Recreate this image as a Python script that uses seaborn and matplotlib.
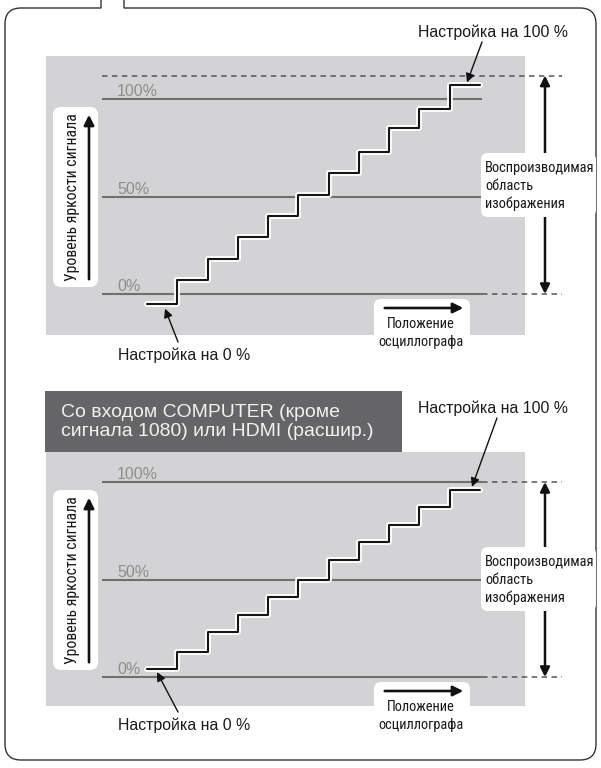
import numpy as np
import pandas as pd
import matplotlib
matplotlib.use("Agg")
import matplotlib.pyplot as plt
import matplotlib.patheffects as pe
import matplotlib.transforms as mtransforms
from matplotlib.patches import FancyBboxPatch, FancyArrowPatch, PathPatch
from matplotlib.path import Path
import seaborn as sns

# ---- data ----
step_pos = list(range(12))                      # step edges (11 steps)
levels_top = [-5, 7, 18, 29, 40, 51, 62, 73, 85, 95, 107]
levels_bottom = [4, 13, 23, 32, 41, 50, 60, 69, 78, 87, 96]
ref_levels = [0, 50, 100]
ref_labels = ["0%", "50%", "100%"]
area_top = [0, 112]          # reproducible picture area, top panel
area_bottom = [0, 100]       # reproducible picture area, bottom panel

header_text = "Со входом COMPUTER (кроме\nсигнала 1080) или HDMI (расшир.)"
note_100 = "Настройка на 100 %"
note_0 = "Настройка на 0 %"
ylabel = "Уровень яркости сигнала"
xlabel = "Положение\nосциллографа"
area_label = "Воспроизводимая\nобласть\nизображения"

sns.set_theme(style="white")
plt.rcParams["font.family"] = ["Liberation Sans", "DejaVu Sans"]
NARROW = ["Roboto Condensed", "Liberation Sans", "DejaVu Sans"]

W, H = 601, 768
fig = plt.figure(figsize=(W / 100, H / 100), dpi=100)
fig.patch.set_facecolor("white")
# pixel coords measured from the top-left corner
T = mtransforms.Affine2D().scale(1 / W, -1 / H).translate(0, 1) + fig.transFigure
renderer = fig.canvas.get_renderer()


def fit(text, target_px, family=None, base=10.0):
    # font size that gives the longest line the width seen in the reference
    line = max(text.split("\n"), key=len)
    t = fig.text(0, 0, line, fontsize=base, family=family or plt.rcParams["font.family"])
    w = t.get_window_extent(renderer).width
    t.remove()
    return base * target_px / w


fs_note = fit(note_0, 132)
fs_pct = fit("100%", 41)
fs_area = fit(area_label, 111, NARROW)
fs_x = fit(xlabel, 86, NARROW)
fs_y = fit(ylabel, 167, NARROW)
fs_head = fit(header_text, 313)

GRAY = "#d3d3d5"
LINE = "#6f6f6f"
INK = "#1a1a1a"
X0, DX = 147, 30.27          # first step edge (px), px per step


def box(x0, y0, x1, y1, color, r=7, z=2):
    p = FancyBboxPatch((x0, y0), x1 - x0, y1 - y0,
                       boxstyle=f"round,pad=0,rounding_size={r}" if r else "square,pad=0",
                       transform=T, facecolor=color, edgecolor="none", zorder=z)
    fig.add_artist(p)


def draw_panel(levels, area, gtop, gbot, zero, hundred, area_mid,
               n100_xy, n0_xy, n100_tip, n0_tip):
    scale = (zero - hundred) / 100.0
    ax = fig.add_axes([46 / W, 1 - gbot / H, 479 / W, (gbot - gtop) / H])
    ax.set_xlim((46 - X0) / DX, (525 - X0) / DX)
    ax.set_ylim((zero - gbot) / scale, (zero - gtop) / scale)
    ax.set_axis_off()
    ax.add_patch(plt.Rectangle((0, 0), 1, 1, transform=ax.transAxes, color=GRAY, zorder=0))

    x_l, x_r, x_d = (102 - X0) / DX, (482 - X0) / DX, (562 - X0) / DX
    for lv, lab in zip(ref_levels, ref_labels):
        ax.hlines(lv, x_l, x_r, color=LINE, lw=1.5, zorder=2)
        ax.text((117 - X0) / DX, lv + 1.4, lab, color="#8d8d8d", fontsize=fs_pct,
                va="baseline", ha="left", zorder=3)
    for lv in area:
        start = x_r if lv in ref_levels else x_l
        ax.plot([start, x_d], [lv, lv], color="#555555", lw=1.1, ls=(0, (3.6, 2.9)),
                clip_on=False, zorder=2)

    df = pd.DataFrame({"pos": step_pos, "level": levels + [levels[-1]]})
    sns.lineplot(data=df, x="pos", y="level", drawstyle="steps-post", color="#151515",
                 lw=1.5, estimator=None, ax=ax, zorder=5,
                 path_effects=[pe.Stroke(linewidth=4.2, foreground="white"), pe.Normal()])

    x_arr = (545 - X0) / DX
    ax.annotate("", xy=(x_arr, area[1]), xytext=(x_arr, area[0]),
                arrowprops=dict(arrowstyle="<|-|>", color="#111", lw=1.8,
                                mutation_scale=14, shrinkA=0, shrinkB=0),
                annotation_clip=False)

    # note arrows
    ax.annotate("", xy=n100_tip(levels), xytext=(n100_xy[0], H - n100_xy[1] - 10),
                textcoords="figure pixels",
                arrowprops=dict(arrowstyle="-|>", color="#111", lw=1.0,
                                mutation_scale=13, shrinkA=0, shrinkB=0),
                annotation_clip=False)
    ax.annotate("", xy=n0_tip(levels), xytext=(n0_xy[0] - 6, H - n0_xy[1] + 13),
                textcoords="figure pixels",
                arrowprops=dict(arrowstyle="-|>", color="#111", lw=1.0,
                                mutation_scale=13, shrinkA=0, shrinkB=0),
                annotation_clip=False)
    fig.text(493, n100_xy[1], note_100, transform=T, ha="center", va="center",
             fontsize=fs_note, color=INK)
    fig.text(184, n0_xy[1], note_0, transform=T, ha="center", va="center",
             fontsize=fs_note, color=INK)

    # picture-area label
    box(481, area_mid - 32, 596, area_mid + 32, "white", r=7, z=3)
    fig.text(485, area_mid + 1, area_label, transform=T, ha="left", va="center",
             fontsize=fs_area, family=NARROW, linespacing=1.3, color=INK, zorder=4)

    # y label box
    box(53, zero - 187, 98, zero - 7, "white", r=8, z=3)
    fig.text(73, zero - 97, ylabel, transform=T, rotation=90, ha="center", va="center",
             fontsize=fs_y, family=NARROW, color=INK, zorder=4)
    fig.add_artist(FancyArrowPatch((89, zero - 12), (89, zero - 182), transform=T,
                                   arrowstyle="-|>", mutation_scale=15, lw=1.9,
                                   color="#111", zorder=4))

    # x label box
    box(374, zero + 5, 470, zero + 52, "white", r=7, z=3)
    fig.add_artist(FancyArrowPatch((382, zero + 14), (466, zero + 14), transform=T,
                                   arrowstyle="-|>", mutation_scale=15, lw=1.9,
                                   color="#111", zorder=4))
    fig.text(421, zero + 39, xlabel, transform=T, ha="center", va="center",
             fontsize=fs_x, family=NARROW, linespacing=1.3, color=INK, zorder=4)
    return ax


draw_panel(levels_top, area_top, 56, 335, 294, 99, 185,
           n100_xy=(482, 32), n0_xy=(184, 355),
           n100_tip=lambda lv: ((467 - X0) / DX, lv[-1] + 1.5),
           n0_tip=lambda lv: ((165 - X0) / DX, lv[0] - 2.5))
draw_panel(levels_bottom, area_bottom, 452, 706, 677, 482, 579,
           n100_xy=(497, 408), n0_xy=(184, 725),
           n100_tip=lambda lv: ((472 - X0) / DX, lv[-1] + 1.5),
           n0_tip=lambda lv: ((157 - X0) / DX, lv[0] - 1.5))

# header of the second panel
box(45, 391, 402, 452, "#656567", r=0, z=2)
fig.text(61, 422, header_text, transform=T, ha="left", va="center", fontsize=fs_head,
         color="#f2f2f2", linespacing=1.1, zorder=3)

# outer frame with the notch at the top
r = 16
verts = [(101, 0), (101, 8), (5 + r, 8), (5, 8), (5, 8 + r), (5, 760 - r), (5, 760),
         (5 + r, 760), (596 - r, 760), (596, 760), (596, 760 - r), (596, 8 + r),
         (596, 8), (596 - r, 8), (124, 8), (124, 0)]
codes = [Path.MOVETO, Path.LINETO, Path.LINETO, Path.CURVE3, Path.CURVE3, Path.LINETO,
         Path.CURVE3, Path.CURVE3, Path.LINETO, Path.CURVE3, Path.CURVE3, Path.LINETO,
         Path.CURVE3, Path.CURVE3, Path.LINETO, Path.LINETO]
fig.add_artist(PathPatch(Path(verts, codes), transform=T, facecolor="none",
                         edgecolor="#333333", lw=1.0, zorder=1))

fig.savefig("out.png", dpi=100)
